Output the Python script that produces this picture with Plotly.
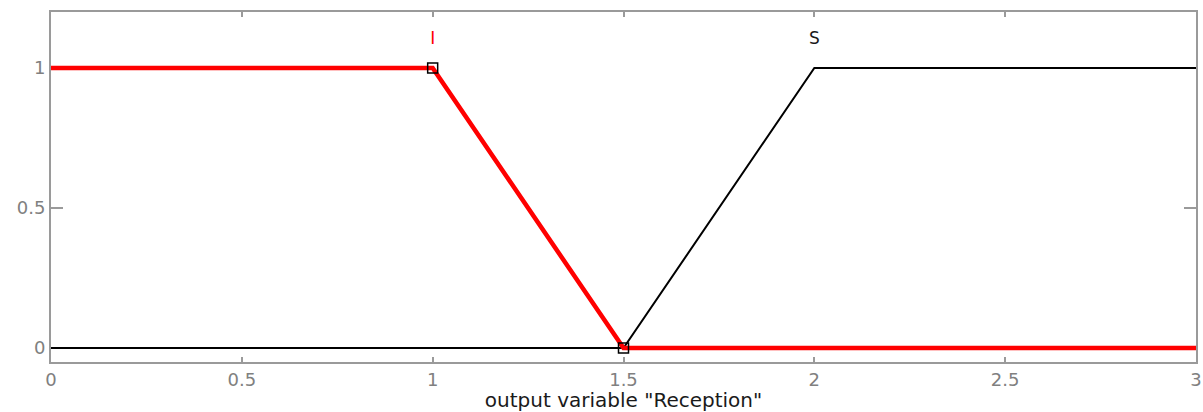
import plotly.graph_objects as go

# membership function "I" (red) and "S" (black)
x_I = [0, 1, 1.5, 3]
y_I = [1, 1, 0, 0]
x_S = [0, 1.5, 2, 3]
y_S = [0, 0, 1, 1]
mf_names = ["I", "S"]
mf_label_x = [1, 2]
mf_label_y = [1.1, 1.1]
marker_x = [1, 1.5]
marker_y = [1, 0]
x_ticks = [0, 0.5, 1, 1.5, 2, 2.5, 3]
x_ticktext = ["0", "0.5", "1", "1.5", "2", "2.5", "3"]
y_ticks = [0, 0.5, 1]
y_ticktext = ["0", "0.5", "1"]

FONT = "DejaVu Sans"

fig = go.Figure()
fig.add_trace(go.Scatter(x=x_S, y=y_S, mode="lines",
                         line=dict(color="black", width=2), showlegend=False))
fig.add_trace(go.Scatter(x=x_I, y=y_I, mode="lines",
                         line=dict(color="#ff0000", width=4.5), showlegend=False))
fig.add_trace(go.Scatter(x=marker_x, y=marker_y, mode="markers",
                         marker=dict(symbol="square-open", size=10,
                                     color="black", line=dict(width=1.5)),
                         showlegend=False))
fig.add_trace(go.Scatter(x=mf_label_x, y=mf_label_y, mode="text",
                         text=mf_names,
                         textfont=dict(color=["#ff0000", "#1a1a1a"], size=17,
                                       family=FONT),
                         showlegend=False))

axis_common = dict(showline=True, linecolor="#9a9a9a", linewidth=2, mirror="allticks",
                   ticks="inside", tickcolor="#9a9a9a", tickwidth=1.5,
                   showgrid=False, zeroline=False, automargin=False,
                   ticklabeloverflow="allow", layer="below traces",
                   tickfont=dict(family=FONT, size=18, color="#808080"))

fig.update_xaxes(range=[0, 3], tickvals=x_ticks, ticktext=x_ticktext, ticklen=5,
                 title=dict(text='output variable "Reception"', standoff=2,
                            font=dict(family=FONT, size=20, color="#1a1a1a")),
                 **axis_common)
fig.update_yaxes(range=[-0.05, 1.2], tickvals=y_ticks, ticktext=y_ticktext, ticklen=12,
                 **axis_common)

fig.update_layout(width=1203, height=412,
                  margin=dict(l=51, r=7, t=12, b=50),
                  plot_bgcolor="white", paper_bgcolor="white")
fig.write_html("out.html", config={"displayModeBar": False},
               post_script="document.body.style.margin='0';document.body.style.overflow='hidden';")
